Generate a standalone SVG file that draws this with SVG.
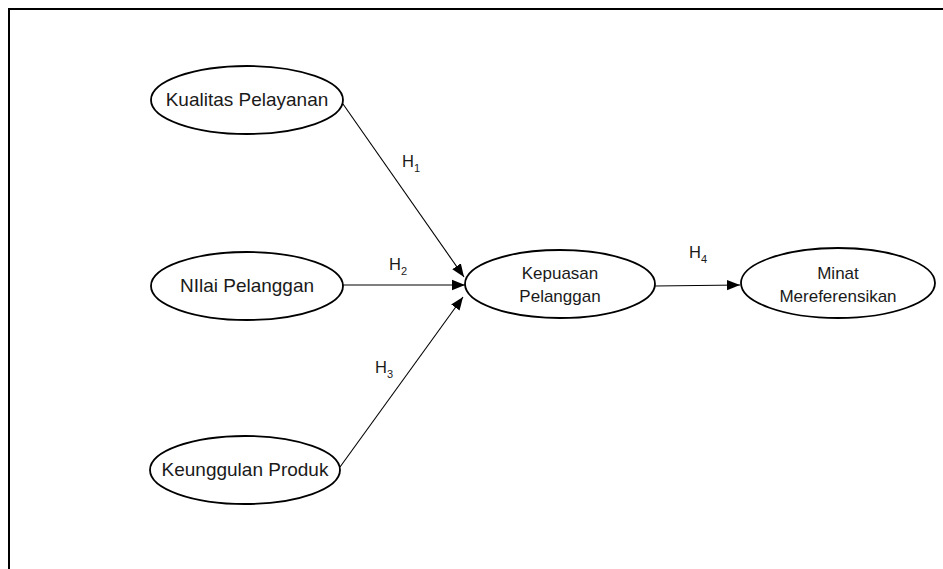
<svg xmlns="http://www.w3.org/2000/svg" width="943" height="569" viewBox="0 0 943 569">
  <style>
    .node ellipse { fill: #ffffff; stroke: #000000; stroke-width: 1.8; }
    .node text { font-family: "Liberation Sans", Arial, sans-serif; font-size: 19px; fill: #1a1a1a; text-anchor: middle; }
    .node.two text { font-size: 17px; }
    .lbl { font-family: "Liberation Sans", Arial, sans-serif; font-size: 16.5px; fill: #1a1a1a; }
    .sub { font-size: 11px; }
    .edge { stroke: #000000; stroke-width: 1.1; fill: none; marker-end: url(#arrow); }
  </style>
  <defs>
    <marker id="arrow" viewBox="0 0 10 10" refX="10" refY="5" markerWidth="13" markerHeight="13" markerUnits="userSpaceOnUse" orient="auto">
      <path d="M0,1 L10,5 L0,9 z" fill="#000000"/>
    </marker>
  </defs>
  <rect width="943" height="569" fill="#ffffff"/>
  <!-- outer frame: top and left edges -->
  <path d="M9,569 V9 H943" fill="none" stroke="#000000" stroke-width="2"/>

  <g id="connectors">
    <line class="edge" x1="343" y1="104" x2="464" y2="277"/>
    <line class="edge" x1="343" y1="285" x2="465" y2="285"/>
    <line class="edge" x1="340" y1="467" x2="463" y2="297"/>
    <line class="edge" x1="655" y1="286" x2="740" y2="285"/>
    <text class="lbl" x="402" y="167">H<tspan class="sub" dy="5">1</tspan></text>
    <text class="lbl" x="389" y="270">H<tspan class="sub" dy="5">2</tspan></text>
    <text class="lbl" x="375" y="373">H<tspan class="sub" dy="5">3</tspan></text>
    <text class="lbl" x="689" y="258">H<tspan class="sub" dy="5">4</tspan></text>
  </g>

  <g id="kualitas-pelayanan" class="node">
    <ellipse cx="247" cy="100" rx="96" ry="34"/>
    <text x="247" y="106">Kualitas Pelayanan</text>
  </g>
  <g id="nilai-pelanggan" class="node">
    <ellipse cx="247" cy="286" rx="96" ry="34"/>
    <text x="247" y="292">NIlai Pelanggan</text>
  </g>
  <g id="keunggulan-produk" class="node">
    <ellipse cx="245" cy="470" rx="95" ry="34"/>
    <text x="245" y="476">Keunggulan Produk</text>
  </g>
  <g id="kepuasan-pelanggan" class="node two">
    <ellipse cx="560" cy="284" rx="95" ry="34"/>
    <text x="560" y="279">Kepuasan</text>
    <text x="560" y="302">Pelanggan</text>
  </g>
  <g id="minat-mereferensikan" class="node two">
    <ellipse cx="838" cy="283" rx="97" ry="35"/>
    <text x="838" y="279">Minat</text>
    <text x="838" y="302">Mereferensikan</text>
  </g>
</svg>
